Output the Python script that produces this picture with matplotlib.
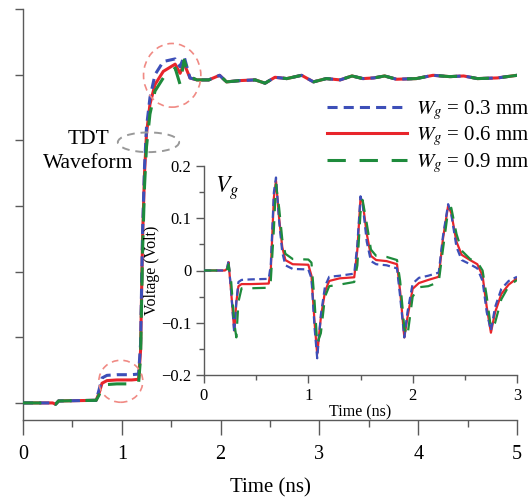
import matplotlib.pyplot as plt
from matplotlib.patches import Ellipse
from matplotlib.ticker import MultipleLocator

plt.rcParams['font.family'] = ['Liberation Serif', 'DejaVu Serif']
plt.rcParams['mathtext.fontset'] = 'stix'

# TDT waveform (main panel), y in tick units
t_main = [0, 0.30, 0.33, 0.36, 0.74, 0.77, 0.80, 0.85, 0.95, 1.10, 1.17, 1.19,
          1.21, 1.23, 1.25, 1.285, 1.336, 1.42, 1.54, 1.59, 1.63, 1.69, 1.76,
          1.88, 1.99, 2.06, 2.2, 2.35, 2.45, 2.55, 2.67, 2.82, 2.94, 3.07, 3.21,
          3.33, 3.44, 3.55, 3.66, 3.78, 3.98, 4.15, 4.32, 4.46, 4.6, 4.8, 5.0]
tail = [4.92, 4.92, 4.99, 4.89, 4.91, 4.92, 4.87, 4.96, 4.94, 4.99, 4.89, 4.94,
        4.92, 4.98, 4.94, 4.95, 4.98, 4.93, 4.94, 4.99, 4.97, 4.98, 4.94, 4.95, 4.99]
w03_main = [0, 0, -0.02, 0.03, 0.04, 0.2, 0.38, 0.42, 0.43, 0.43, 0.44, 0.9,
            2.6, 3.6, 4.2, 4.65, 5.0, 5.2, 5.24, 5.12, 5.28, 4.95] + tail
w06_main = [0, 0, -0.02, 0.03, 0.04, 0.15, 0.30, 0.34, 0.35, 0.35, 0.36, 0.8,
            2.5, 3.5, 4.1, 4.55, 4.85, 5.05, 5.16, 5.02, 5.17, 4.95] + tail
w09_main = [0, 0, -0.02, 0.03, 0.04, 0.12, 0.25, 0.28, 0.29, 0.29, 0.30, 0.7,
            2.3, 3.3, 3.9, 4.4, 4.75, 4.95, 5.1, 4.85, 5.22, 4.97] + tail

# V_g inset (Volt)
t_in = [0, 0.20, 0.22, 0.235, 0.26, 0.29, 0.31, 0.33, 0.36, 0.45, 0.62, 0.64,
        0.67, 0.69, 0.72, 0.75, 0.78, 0.85, 1.0, 1.03, 1.06, 1.085, 1.12, 1.16,
        1.2, 1.3, 1.44, 1.47, 1.50, 1.52, 1.56, 1.6, 1.65, 1.75, 1.85, 1.88,
        1.92, 1.95, 2.0, 2.06, 2.15, 2.25, 2.29, 2.34, 2.37, 2.42, 2.47, 2.55,
        2.62, 2.67, 2.71, 2.75, 2.79, 2.85, 2.92, 3.0]
w03_in = [0, 0, 0.003, 0.018, -0.04, -0.12, -0.06, -0.022, -0.018, -0.017, -0.016, 0.01,
          0.15, 0.178, 0.095, 0.035, 0.01, 0.003, 0.002, -0.015, -0.11, -0.168, -0.085, -0.03,
          -0.012, -0.01, -0.006, 0.05, 0.142, 0.128, 0.055, 0.018, 0.012, 0.01, 0.004, -0.05,
          -0.128, -0.08, -0.025, -0.014, -0.01, -0.004, 0.065, 0.127, 0.108, 0.045, 0.02, 0.012,
          0.004, -0.02, -0.08, -0.115, -0.07, -0.035, -0.02, -0.012]
w06_in = [0, 0, 0.003, 0.016, -0.04, -0.115, -0.06, -0.03, -0.026, -0.026, -0.025, 0.0,
          0.14, 0.172, 0.1, 0.045, 0.02, 0.012, 0.011, -0.01, -0.1, -0.16, -0.09, -0.04,
          -0.02, -0.015, -0.013, 0.04, 0.138, 0.132, 0.07, 0.028, 0.02, 0.018, 0.012, -0.04,
          -0.128, -0.09, -0.035, -0.024, -0.018, -0.012, 0.06, 0.124, 0.11, 0.055, 0.03, 0.02,
          0.012, -0.01, -0.07, -0.119, -0.08, -0.045, -0.027, -0.015]
w09_in = [0, 0, 0.0, 0.012, -0.02, -0.1, -0.128, -0.06, -0.034, -0.034, -0.033, -0.02,
          0.08, 0.165, 0.12, 0.06, 0.032, 0.022, 0.021, 0.015, -0.06, -0.14, -0.12, -0.05,
          -0.03, -0.027, -0.022, 0.01, 0.11, 0.135, 0.09, 0.04, 0.028, 0.026, 0.02, -0.02,
          -0.11, -0.125, -0.05, -0.032, -0.03, -0.022, 0.04, 0.115, 0.12, 0.07, 0.038, 0.022,
          0.016, 0.0, -0.05, -0.11, -0.1, -0.055, -0.03, -0.018]

labels = [r'$W_g$ = 0.3 mm', r'$W_g$ = 0.6 mm', r'$W_g$ = 0.9 mm']
blue, red, green = '#3d4fb8', '#e8252b', '#1e8b3c'
spine_c = '#5a5a5a'

fig = plt.figure(figsize=(5.32, 4.99), dpi=100)
W, H = 532, 499
ax = fig.add_axes([23 / W, 1 - 420 / H, (517 - 23) / W, (420 - 9) / H])
ax.patch.set_alpha(0)

l6, = ax.plot(t_main, w06_main, color=red, lw=2.2, zorder=2)
l3, = ax.plot(t_main, w03_main, color=blue, lw=2.2, dashes=(3.3, 2), zorder=3)
l9, = ax.plot(t_main, w09_main, color=green, lw=2.2, dashes=(6, 4.5), zorder=4)

ax.set_xlim(0, 5)
ax.set_ylim(-0.26, 6.0)
ax.set_yticks(range(7))
ax.set_yticklabels([])
ax.xaxis.set_major_locator(MultipleLocator(1))
ax.xaxis.set_minor_locator(MultipleLocator(0.5))
for s in ['top', 'right']:
    ax.spines[s].set_visible(False)
for s in ['left', 'bottom']:
    ax.spines[s].set_color(spine_c)
    ax.spines[s].set_linewidth(1.0)
ax.tick_params(axis='y', which='major', length=6, width=1.0, color=spine_c)
ax.tick_params(axis='x', which='major', length=11, width=1.0, color=spine_c,
               labelsize=14.5, pad=7)
ax.tick_params(axis='x', which='minor', length=5, width=1.0, color=spine_c)
ax.set_xlabel('Time (ns)', fontsize=15, labelpad=10)

# annotation ellipses
ax.add_patch(Ellipse((1.51, 4.99), 0.58, 0.97, fill=False, ec='#f08a84', lw=1.2, ls=(0, (4, 3)), zorder=5))
ax.add_patch(Ellipse((0.99, 0.33), 0.445, 0.64, fill=False, ec='#f08a84', lw=1.2, ls=(0, (4, 3)), zorder=5))
ax.add_patch(Ellipse((1.27, 3.97), 0.62, 0.30, fill=False, ec='#999999', lw=1.4, ls=(0, (4, 3)), zorder=5))
ax.text(0.66, 3.83, 'TDT\nWaveform', fontsize=15.5, ha='center', va='center', linespacing=1.35)

leg = ax.legend([l3, l6, l9], labels, loc='upper left', frameon=False,
                bbox_to_anchor=(327 / W, 1 - 98 / H), bbox_transform=fig.transFigure,
                fontsize=15, handlelength=3.85, handletextpad=0.4, labelspacing=0.12,
                borderpad=0, borderaxespad=0)

# inset
ins = fig.add_axes([204 / W, 1 - 375 / H, (517 - 204) / W, (375 - 166) / H])
ins.patch.set_alpha(0)
ins.plot(t_in, w06_in, color=red, lw=1.6, zorder=2)
ins.plot(t_in, w03_in, color=blue, lw=1.6, dashes=(3.3, 2), zorder=3)
ins.plot(t_in, w09_in, color=green, lw=1.6, dashes=(6, 4.5), zorder=4)
ins.set_xlim(0, 3)
ins.set_ylim(-0.2, 0.2)
ins.set_yticks([-0.2, -0.1, 0, 0.1, 0.2], labels=['\u22120.2', '\u22120.1', '0', '0.1', '0.2'])
ins.set_xticks([0, 1, 2, 3])
ins.xaxis.set_minor_locator(MultipleLocator(0.5))
ins.yaxis.set_minor_locator(MultipleLocator(0.05))
for s in ['top', 'right']:
    ins.spines[s].set_visible(False)
for s in ['left', 'bottom']:
    ins.spines[s].set_color(spine_c)
    ins.spines[s].set_linewidth(1.0)
ins.tick_params(which='major', length=6, width=1.0, color=spine_c, labelsize=12, pad=3)
ins.tick_params(which='minor', length=3.5, width=1.0, color=spine_c)
ins.set_xlabel('Time (ns)', fontsize=11.5, labelpad=1)
ins.set_ylabel('Voltage (Volt)', fontsize=11.5, labelpad=1)
ins.text(0.035, 0.96, r'$V_g$', transform=ins.transAxes, fontsize=17, ha='left', va='top')

fig.savefig('out.png', dpi=100)
